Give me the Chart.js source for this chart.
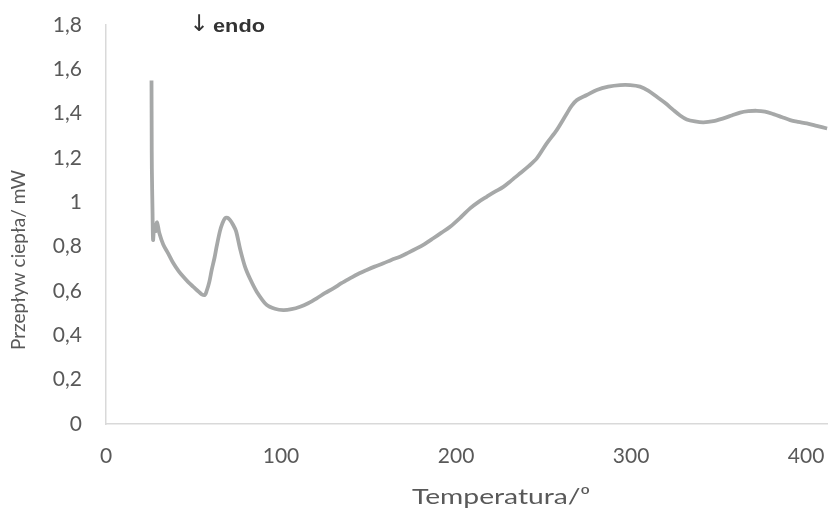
<!DOCTYPE html>
<html>
<head>
<meta charset="utf-8">
<script src="https://cdn.jsdelivr.net/npm/chart.js@4"></script>
<style>
html,body{margin:0;padding:0;background:#fff;}
#wrap{width:828px;height:509px;position:relative;}
</style>
</head>
<body>
<div id="wrap"><canvas id="c" width="828" height="509"></canvas></div>
<script>
// Temperature (x) and heat flow (y)
const temperatures = [26.0, 26.1, 26.2, 26.6, 26.9, 27.6, 28.4, 29.2, 30.5, 32.7, 35.5, 38.5, 41.5, 44.2, 47.0, 49.9, 52.5, 54.7, 56.5, 57.5, 59.0, 60.4, 62.0, 63.2, 65.1, 66.5, 68.0, 69.5, 70.9, 72.5, 74.3, 76.6, 79.4, 82.3, 86.1, 91.8, 96.5, 101.3, 106.0, 110.9, 115.5, 120.4, 125.0, 129.9, 134.5, 139.4, 144.0, 149.0, 153.5, 158.5, 163.0, 168.0, 172.5, 177.5, 182.0, 187.0, 191.5, 196.6, 203.0, 208.0, 212.5, 217.5, 222.0, 227.0, 231.5, 236.6, 241.5, 246.1, 251.8, 257.5, 263.3, 266.0, 269.0, 274.7, 280.4, 287.0, 293.7, 299.5, 305.1, 310.0, 314.7, 319.5, 324.2, 328.0, 331.8, 336.5, 341.3, 347.0, 352.7, 357.5, 362.3, 367.0, 371.8, 376.5, 381.3, 386.0, 390.9, 395.5, 400.4, 406.0, 412.0];
const heatFlow = [1.55, 1.30, 1.15, 0.95, 0.83, 0.90, 0.87, 0.91, 0.86, 0.81, 0.77, 0.725, 0.69, 0.664, 0.64, 0.619, 0.60, 0.585, 0.582, 0.60, 0.64, 0.695, 0.75, 0.80, 0.87, 0.905, 0.928, 0.93, 0.92, 0.90, 0.870, 0.79, 0.71, 0.655, 0.597, 0.537, 0.52, 0.514, 0.518, 0.529, 0.545, 0.567, 0.59, 0.612, 0.635, 0.657, 0.677, 0.695, 0.71, 0.725, 0.74, 0.755, 0.772, 0.792, 0.812, 0.838, 0.862, 0.890, 0.935, 0.973, 1.00, 1.025, 1.047, 1.07, 1.098, 1.131, 1.163, 1.198, 1.266, 1.326, 1.401, 1.435, 1.461, 1.484, 1.507, 1.522, 1.529, 1.529, 1.522, 1.503, 1.476, 1.448, 1.416, 1.392, 1.374, 1.365, 1.361, 1.366, 1.379, 1.392, 1.405, 1.411, 1.413, 1.409, 1.398, 1.385, 1.371, 1.363, 1.356, 1.345, 1.333];
const xTicks = [0, 100, 200, 300, 400];
const yTickLabels = ['0', '0,2', '0,4', '0,6', '0,8', '1', '1,2', '1,4', '1,6', '1,8'];

const points = temperatures.map((t, i) => ({x: t, y: heatFlow[i]}));

function fillStretched(ctx, text, cx, cy, targetW) {
  const w = ctx.measureText(text).width;
  const s = targetW / w;
  ctx.save();
  ctx.translate(cx, cy);
  ctx.scale(s, 1);
  ctx.fillText(text, 0, 0);
  ctx.restore();
}

const textPlugin = {
  id: 'texts',
  afterDraw(chart) {
    const ctx = chart.ctx;
    ctx.save();
    ctx.fillStyle = '#595959';
    ctx.textAlign = 'center';
    ctx.textBaseline = 'middle';
    ctx.font = '21px Lato';
    fillStretched(ctx, 'Temperatura/\u2070', 501, 497, 178);
    ctx.translate(19, 260);
    ctx.rotate(-Math.PI / 2);
    ctx.font = '19px Lato';
    ctx.fillText('Przepływ ciepła/ mW', 0, 0);
    ctx.restore();
    ctx.save();
    ctx.fillStyle = '#333333';
    ctx.textAlign = 'center';
    ctx.textBaseline = 'middle';
    ctx.font = '23px "DejaVu Sans"';
    ctx.fillText('\u2193', 199, 25);
    ctx.font = 'bold 18px "Liberation Sans"';
    fillStretched(ctx, 'endo', 239, 27, 52);
    ctx.restore();
  }
};

new Chart(document.getElementById('c'), {
  type: 'line',
  data: {
    datasets: [{
      data: points,
      borderColor: '#a6a8a8',
      borderWidth: 3.8,
      pointRadius: 0,
      tension: 0.3,
      fill: false
    }]
  },
  options: {
    responsive: false,
    animation: false,
    events: [],
    layout: {padding: {top: 25, right: 0, left: 0, bottom: 0}},
    plugins: {legend: {display: false}, tooltip: {enabled: false}},
    scales: {
      x: {
        type: 'linear',
        min: 0,
        max: 412.5,
        afterBuildTicks(scale) { scale.ticks = xTicks.map(v => ({value: v})); },
        afterFit(scale) { scale.height = 85; scale.paddingRight = 0; scale.paddingLeft = 0; },
        grid: {display: false, drawTicks: false},
        border: {display: true, color: '#d9d9d9', width: 1.5},
        ticks: {
          color: '#595959',
          font: {family: 'Lato', size: 21},
          padding: 20,
          maxRotation: 0,
          autoSkip: false
        }
      },
      y: {
        type: 'linear',
        min: 0,
        max: 1.8,
        afterBuildTicks(scale) { scale.ticks = yTickLabels.map((l, i) => ({value: i * 0.2})); },
        afterFit(scale) { scale.width = 106; scale.paddingTop = 0; scale.paddingBottom = 0; },
        grid: {display: false, drawTicks: false},
        border: {display: true, color: '#d9d9d9', width: 1.5},
        ticks: {
          color: '#595959',
          font: {family: 'Lato', size: 21},
          padding: 24,
          callback: (v, i) => yTickLabels[i]
        }
      }
    }
  },
  plugins: [textPlugin]
});
</script>
</body>
</html>
